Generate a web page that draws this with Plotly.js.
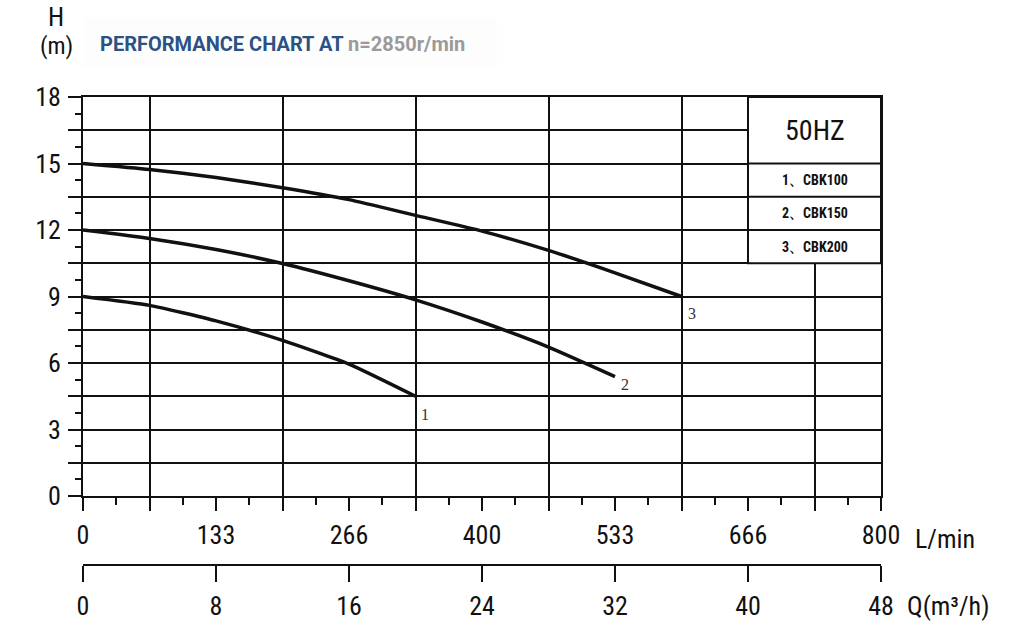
<!DOCTYPE html>
<html>
<head>
<meta charset="utf-8">
<script src="https://cdn.plot.ly/plotly-3.0.1.min.js"></script>
<style>html,body{margin:0;padding:0;background:#fff;}#chart{width:1009px;height:634px;}</style>
</head>
<body>
<div id="chart"></div>
<script>
// ---- data (flow in m3/h, head in m) ----
const flowQ = [0, 4, 8, 12, 16, 20, 24, 28, 32, 36];
const headCBK100 = [9.0, 8.6, 7.9, 7.02, 5.95, 4.5];
const headCBK150 = [12.0, 11.62, 11.12, 10.49, 9.71, 8.85, 7.85, 6.72, 5.39];
const headCBK200 = [15.0, 14.73, 14.37, 13.91, 13.37, 12.66, 11.95, 11.08, 10.07, 9.0];
const curveIds = ['1', '2', '3'];
const modelNames = ['1、CBK100', '2、CBK150', '3、CBK200'];
const freqLabel = '50HZ';

const flowTicks = [0, 4, 8, 12, 16, 20, 24, 28, 32, 36, 40, 44, 48];
const lpmLabels = ['0', '', '133', '', '266', '', '400', '', '533', '', '666', '', '800'];
const flowMinorTicks = [2, 6, 10, 14, 18, 22, 26, 30, 34, 38, 42, 46];
const qTicks = [0, 8, 16, 24, 32, 40, 48];
const qLabels = ['0', '8', '16', '24', '32', '40', '48'];
const gridFlow = [4, 12, 20, 28, 36, 44];
const headTicks = [0, 1.5, 3, 4.5, 6, 7.5, 9, 10.5, 12, 13.5, 15, 16.5, 18];
const headLabels = ['0', '', '3', '', '6', '', '9', '', '12', '', '15', '', '18'];
const headMinorTicks = [0.75, 2.25, 3.75, 5.25, 6.75, 8.25, 9.75, 11.25, 12.75, 14.25, 15.75, 17.25];

const titleMain = 'PERFORMANCE CHART AT';
const titleSpeed = 'n=2850r/min';

const NARROW = 'Liberation Sans Narrow, Roboto Condensed, DejaVu Sans Condensed, sans-serif';
const INK = '#111111';

const heads = [headCBK100, headCBK150, headCBK200];
const traces = heads.map((h, i) => ({
  type: 'scatter', mode: 'lines',
  x: flowQ.slice(0, h.length), y: h,
  line: {color: INK, width: 3.5, shape: 'spline', smoothing: 0.5},
  hoverinfo: 'skip', showlegend: false, xaxis: 'x', yaxis: 'y'
}));
// helper traces so the extra axes exist
traces.push({type: 'scatter', mode: 'markers', x: [0], y: [0], xaxis: 'x2', yaxis: 'y',
  marker: {opacity: 0}, hoverinfo: 'skip', showlegend: false});
traces.push({type: 'scatter', mode: 'markers', x: [0], y: [0], xaxis: 'x3', yaxis: 'y',
  marker: {opacity: 0}, hoverinfo: 'skip', showlegend: false});

const annotations = [];
// curve end labels
const labelShift = [[9, -18], [10, -8], [10, -17]];
heads.forEach((h, i) => {
  annotations.push({
    x: flowQ[h.length - 1], y: h[h.length - 1], xref: 'x', yref: 'y',
    text: curveIds[i], showarrow: false, xanchor: 'center', yanchor: 'middle',
    xshift: labelShift[i][0], yshift: labelShift[i][1],
    font: {family: 'Liberation Serif, serif', size: 16, color: '#333'}
  });
});
// legend box texts
annotations.push({x: 44, y: 16.5, xref: 'x', yref: 'y', text: freqLabel, showarrow: false,
  font: {family: NARROW, size: 28, color: INK}});
const rowY = [14.25, 12.75, 11.25];
modelNames.forEach((m, i) => {
  annotations.push({x: 44, y: rowY[i], xref: 'x', yref: 'y', text: '<b>' + m + '</b>', showarrow: false,
    font: {family: NARROW, size: 14, color: INK}});
});
// axis titles
annotations.push({x: -0.0338, y: 1.171, xref: 'paper', yref: 'paper', text: 'H', showarrow: false,
  xanchor: 'center', yanchor: 'middle', font: {family: NARROW, size: 26, color: INK}});
annotations.push({x: -0.0338, y: 1.109, xref: 'paper', yref: 'paper', text: '(m)', showarrow: false,
  xanchor: 'center', yanchor: 'middle', font: {family: NARROW, size: 24, color: INK}});
annotations.push({x: 1.040, y: 0.0556, xref: 'paper', yref: 'paper', text: 'L/min', showarrow: false,
  xanchor: 'left', yanchor: 'middle', font: {family: NARROW, size: 26, color: INK}});
annotations.push({x: 1.030, y: -0.0876, xref: 'paper', yref: 'paper', text: 'Q(m³/h)', showarrow: false,
  xanchor: 'left', yanchor: 'middle', font: {family: NARROW, size: 26, color: INK}});
// chart title
annotations.push({x: 0.0188, y: 1.113, xref: 'paper', yref: 'paper', showarrow: false,
  xanchor: 'left', yanchor: 'middle',
  text: '<b><span style="color:#2b5283">' + titleMain + '</span> <span style="color:#9a9a9a">' + titleSpeed + '</span></b>',
  font: {family: 'Roboto, sans-serif', size: 20}});

const shapes = [
  // title band
  {type: 'rect', xref: 'paper', yref: 'paper', x0: 0, x1: 0.519, y0: 1.064, y1: 1.169,
   fillcolor: '#fdfdfd', line: {width: 0}, layer: 'below'},
  // legend box
  {type: 'rect', xref: 'x', yref: 'y', x0: 40, x1: 48, y0: 10.5, y1: 18,
   fillcolor: '#ffffff', line: {color: INK, width: 2}, layer: 'above'},
  {type: 'line', xref: 'x', yref: 'y', x0: 40, x1: 48, y0: 15, y1: 15, line: {color: INK, width: 2}, layer: 'above'},
  {type: 'line', xref: 'x', yref: 'y', x0: 40, x1: 48, y0: 13.5, y1: 13.5, line: {color: INK, width: 2}, layer: 'above'},
  {type: 'line', xref: 'x', yref: 'y', x0: 40, x1: 48, y0: 12, y1: 12, line: {color: INK, width: 2}, layer: 'above'}
];

const layout = {
  width: 1009, height: 634,
  margin: {l: 83, r: 128, t: 97, b: 69, pad: 0},
  paper_bgcolor: '#ffffff', plot_bgcolor: '#ffffff',
  showlegend: false,
  font: {family: NARROW, color: INK},
  xaxis: {
    range: [0, 48], domain: [0, 1], anchor: 'y',
    tickmode: 'array', tickvals: flowTicks, ticktext: lpmLabels,
    ticks: 'outside', ticklen: 13, tickwidth: 2, tickcolor: INK,
    minor: {tickmode: 'array', tickvals: flowMinorTicks, ticks: 'outside', ticklen: 7, tickwidth: 2, tickcolor: INK, showgrid: false},
    showgrid: false, zeroline: false,
    showline: true, linewidth: 2, linecolor: INK, mirror: true,
    tickfont: {family: NARROW, size: 26, color: INK},
    ticklabelstandoff: 2
  },
  xaxis2: {
    range: [0, 48], domain: [0, 1], anchor: 'free', position: 0, side: 'bottom', overlaying: 'x',
    tickmode: 'array', tickvals: qTicks, ticktext: qLabels,
    ticks: 'outside', ticklen: 16, tickwidth: 2, tickcolor: INK,
    showgrid: false, zeroline: false,
    showline: true, linewidth: 2, linecolor: INK,
    tickfont: {family: NARROW, size: 26, color: INK},
    ticklabelstandoff: 2
  },
  xaxis3: {
    range: [0, 48], domain: [0, 1], anchor: 'y', overlaying: 'x',
    tickmode: 'array', tickvals: gridFlow, showticklabels: false, ticks: '',
    showgrid: true, gridcolor: INK, gridwidth: 2, zeroline: false, showline: false
  },
  yaxis: {
    range: [0, 18], domain: [0.1474, 1], anchor: 'x',
    tickmode: 'array', tickvals: headTicks, ticktext: headLabels,
    ticks: 'outside', ticklen: 13, tickwidth: 2, tickcolor: INK,
    minor: {tickmode: 'array', tickvals: headMinorTicks, ticks: 'outside', ticklen: 6, tickwidth: 2, tickcolor: INK, showgrid: false},
    showgrid: true, gridcolor: INK, gridwidth: 2, zeroline: false,
    showline: true, linewidth: 2, linecolor: INK, mirror: true,
    tickfont: {family: NARROW, size: 26, color: INK},
    ticklabelstandoff: 2
  },
  shapes: shapes,
  annotations: annotations
};

Plotly.newPlot('chart', traces, layout, {displayModeBar: false, staticPlot: true});
</script>
</body>
</html>
